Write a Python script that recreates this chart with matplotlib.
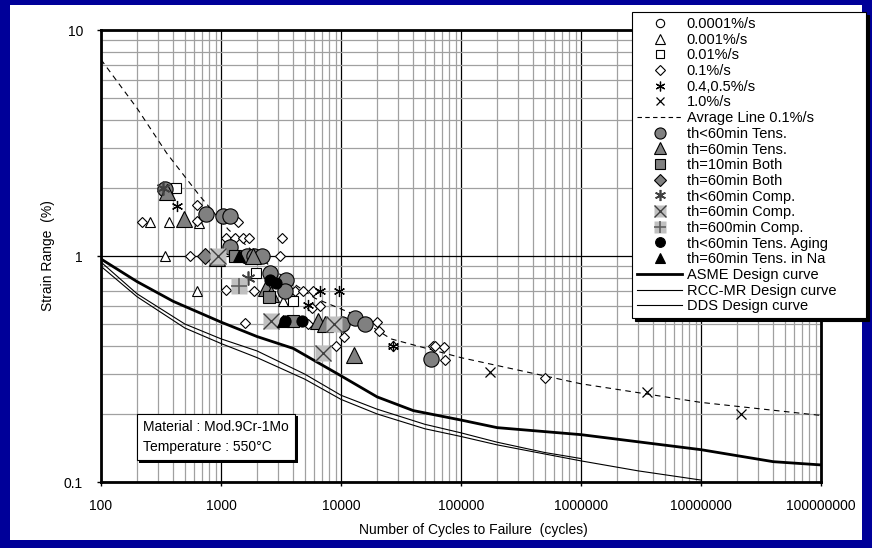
import numpy as np
import matplotlib
matplotlib.use('Agg')
import matplotlib.pyplot as plt
from matplotlib.lines import Line2D
from matplotlib.patches import Rectangle
from matplotlib.ticker import FixedLocator, LogLocator, NullFormatter
from matplotlib.legend_handler import HandlerTuple
import matplotlib.patheffects as pe

plt.rcParams['font.family'] = ['Liberation Sans', 'DejaVu Sans']

# ---- test data: cycles to failure (N) and strain range (%) ----
# open symbols: continuous cycling at different strain rates
r0001_n, r0001_e = [], []
r001_n = [257, 366, 660, 343, 627, 3290]
r001_e = [1.42, 1.42, 1.40, 1.0, 0.70, 0.63]
r01_n = [422, 1970, 3950]
r01_e = [2.0, 0.84, 0.63]
r1_n = [220, 627, 1374, 631, 553, 3100, 1103, 1310, 1530, 1720, 3200, 1100,
        1580, 1900, 4120, 4850, 5890, 5690, 6690, 5340, 20100, 20800, 10500,
        9130, 26900, 58500, 60400, 72200, 73300, 500000]
r1_e = [1.42, 1.68, 1.42, 1.43, 1.0, 1.0, 1.205, 1.205, 1.205, 1.205, 1.205, 0.705,
        0.505, 0.70, 0.70, 0.70, 0.70, 0.59, 0.60, 0.50, 0.51, 0.465, 0.44,
        0.40, 0.40, 0.40, 0.40, 0.395, 0.345, 0.289]
r45_n = [433, 6690, 9560, 5340, 26900]
r45_e = [1.66, 0.70, 0.70, 0.61, 0.40]
r10_n = [175000, 3.56e6, 2.14e7]
r10_e = [0.306, 0.251, 0.20]

# hold time tests
tlt_n = [341, 750, 1045, 1186, 1180, 1660, 1880, 2190, 2540, 3460, 3400,
         10200, 13200, 16000, 55800]
tlt_e = [1.97, 1.54, 1.51, 1.51, 1.10, 1.0, 1.0, 1.0, 0.84, 0.78, 0.70,
         0.50, 0.53, 0.50, 0.35]
t60t_n = [352, 492, 920, 1860, 2380, 2600, 6480, 7380, 12950]
t60t_e = [1.92, 1.46, 0.98, 1.0, 0.72, 0.68, 0.515, 0.50, 0.364]
t10b_n = [1310, 4000, 2500]
t10b_e = [1.0, 0.515, 0.66]
t60b_n = [735]
t60b_e = [1.0]
tltc_n = [330, 1680]
tltc_e = [2.0, 0.80]
t60c_n = [950, 2620, 8670, 7140]
t60c_e = [1.0, 0.515, 0.50, 0.373]
t600c_n = [1410]
t600c_e = [0.735]
aging_n = [2570, 2850, 3400, 4700]
aging_e = [0.78, 0.76, 0.515, 0.515]
na_n = [1420, 3300]
na_e = [1.0, 0.515]

# average line and design curves
avg_n = [100, 200, 353, 668, 1150, 1636, 3000, 6080, 12000, 26000, 1e5, 1e6, 1e7, 1e8]
avg_e = [7.4, 4.5, 2.85, 1.84, 1.31, 1.11, 0.84, 0.65, 0.56, 0.43, 0.355, 0.272, 0.225, 0.197]
asme_n = [100, 200, 400, 1000, 2000, 4000, 1e4, 2e4, 4e4, 1e5, 2e5, 1e6, 1e7, 4e7, 1e8]
asme_e = [0.97, 0.77, 0.63, 0.51, 0.44, 0.39, 0.295, 0.238, 0.207, 0.188, 0.174,
          0.162, 0.139, 0.123, 0.119]
rcc_n = [100, 200, 500, 1000, 2000, 5000, 1e4, 2e4, 5e4, 1e5, 2e5, 5e5, 1e6]
rcc_e = [0.94, 0.68, 0.50, 0.43, 0.38, 0.30, 0.242, 0.21, 0.18, 0.165, 0.150, 0.135, 0.127]
dds_n = [100, 200, 500, 1000, 2000, 5000, 1e4, 2e4, 5e4, 1e5, 2e5, 5e5, 1e6, 3e6, 1e7]
dds_e = [0.90, 0.66, 0.48, 0.41, 0.355, 0.285, 0.232, 0.20, 0.172, 0.159, 0.146, 0.133,
         0.124, 0.112, 0.102]

x_ticks = [100, 1000, 10000, 100000, 1000000, 10000000, 100000000]
y_ticks = [0.1, 1, 10]

W, H = 872, 548
fig = plt.figure(figsize=(W / 100, H / 100), dpi=100, facecolor='#000099')
fig.patches.append(Rectangle((10 / W, 8 / H), 852 / W, 535 / H,
                             transform=fig.transFigure, facecolor='white',
                             edgecolor='none', zorder=-10))
ax = fig.add_axes([101 / W, 1 - 482 / H, 720 / W, 452 / H])
ax.set_zorder(1)
ax.set_xscale('log')
ax.set_yscale('log')
ax.set_xlim(100, 1e8)
ax.set_ylim(0.1, 10)

GRAY = '#808080'
LGRAY = '#c0c0c0'
small = dict(ls='none', mfc='white', mec='black', mew=0.8, zorder=4)
big = dict(ls='none', mec='black', mew=0.8, zorder=5)

ax.plot(avg_n, avg_e, color='black', lw=0.8, dashes=(5, 4), zorder=3)
ax.plot(asme_n, asme_e, color='black', lw=2.0, zorder=3)
ax.plot(rcc_n, rcc_e, color='black', lw=0.8, zorder=3)
ax.plot(dds_n, dds_e, color='black', lw=0.8, zorder=3)

ax.plot(r0001_n, r0001_e, marker='o', ms=6, **small)
ax.plot(r001_n, r001_e, marker='^', ms=7, **small)
ax.plot(r01_n, r01_e, marker='s', ms=6.5, **small)
ax.plot(r1_n, r1_e, marker='D', ms=5.5, **small)
ax.plot(r45_n, r45_e, marker=(6, 2, 0), ms=8, ls='none', mec='black', mew=0.9, zorder=4)
ax.plot(r10_n, r10_e, marker='x', ms=7, ls='none', mec='black', mew=0.9, zorder=4)

ax.plot(tlt_n, tlt_e, marker='o', ms=11, mfc=GRAY, **big)
ax.plot(t60t_n, t60t_e, marker='^', ms=12, mfc=GRAY, **big)
ax.plot(t10b_n, t10b_e, marker='s', ms=9, mfc=GRAY, **big)
ax.plot(t60b_n, t60b_e, marker='D', ms=8, mfc=GRAY, **big)
ax.plot(tltc_n, tltc_e, marker=(6, 2, 0), ms=10, ls='none', mec='#404040', mew=1.2, zorder=5)
ax.plot(t60c_n, t60c_e, marker='s', ms=12, ls='none', mfc=LGRAY, mec='none', zorder=5)
ax.plot(t60c_n, t60c_e, marker='x', ms=12, ls='none', mec='#404040', mew=1.0, zorder=5)
ax.plot(t600c_n, t600c_e, marker='s', ms=12, ls='none', mfc=LGRAY, mec='none', zorder=5)
ax.plot(t600c_n, t600c_e, marker='+', ms=12, ls='none', mec='#606060', mew=1.2, zorder=5)
ax.plot(aging_n, aging_e, marker='o', ms=8, mfc='black', **big)
ax.plot(na_n, na_e, marker='^', ms=9, mfc='black', **big)

# axes styling
ax.xaxis.set_major_locator(FixedLocator(x_ticks))
ax.set_xticklabels([str(v) for v in x_ticks])
ax.yaxis.set_major_locator(FixedLocator(y_ticks))
ax.set_yticklabels(['0.1', '1', '10'])
ax.xaxis.set_minor_locator(LogLocator(base=10, subs=np.arange(2, 10), numticks=20))
ax.yaxis.set_minor_locator(LogLocator(base=10, subs=np.arange(2, 10), numticks=20))
ax.xaxis.set_minor_formatter(NullFormatter())
ax.yaxis.set_minor_formatter(NullFormatter())
ax.tick_params(which='minor', length=0)
ax.tick_params(which='major', length=3, width=1, labelsize=10, direction='out')
ax.tick_params(axis='x', pad=9)
ax.tick_params(axis='y', pad=10)
ax.grid(which='minor', color='#a0a0a0', lw=0.9)
ax.grid(which='major', color='black', lw=0.9)
ax.set_axisbelow(True)
for s in ax.spines.values():
    s.set_linewidth(2)

fig.text(48 / W, 1 - 256 / H, 'Strain Range  (%)', rotation=90,
         ha='center', va='center', fontsize=10)
fig.text(473 / W, 1 - 530 / H, 'Number of Cycles to Failure  (cycles)',
         ha='center', va='center', fontsize=10)

t = ax.text(0.058, 0.062, 'Material : Mod.9Cr-1Mo\nTemperature : 550\u00b0C',
            transform=ax.transAxes, fontsize=10, linespacing=1.55,
            ha='left', va='bottom', zorder=6,
            bbox=dict(boxstyle='square,pad=0.45', fc='white', ec='black', lw=0.8))
t.get_bbox_patch().set_path_effects([
    pe.SimplePatchShadow(offset=(2, -2), shadow_rgbFace='black', alpha=1),
    pe.Normal()])

# legend
def mk(**kw):
    return Line2D([], [], ls='none', **kw)

sm = dict(mfc='white', mec='black', mew=0.8)
bg = dict(mec='black', mew=0.8)
handles = [
    mk(marker='o', ms=6, **sm),
    mk(marker='^', ms=6.5, **sm),
    mk(marker='s', ms=6, **sm),
    mk(marker='D', ms=5, **sm),
    mk(marker=(6, 2, 0), ms=7, mec='black', mew=0.9),
    mk(marker='x', ms=6, mec='black', mew=0.9),
    Line2D([], [], color='black', lw=0.8, dashes=(4, 3)),
    mk(marker='o', ms=8, mfc=GRAY, **bg),
    mk(marker='^', ms=8.5, mfc=GRAY, **bg),
    mk(marker='s', ms=7.5, mfc=GRAY, **bg),
    mk(marker='D', ms=6, mfc=GRAY, **bg),
    mk(marker=(6, 2, 0), ms=8, mec='#404040', mew=1.2),
    (mk(marker='s', ms=9, mfc=LGRAY, mec='none'),
     mk(marker='x', ms=9, mec='#404040', mew=1.0)),
    (mk(marker='s', ms=9, mfc=LGRAY, mec='none'),
     mk(marker='+', ms=9, mec='#606060', mew=1.2)),
    mk(marker='o', ms=7, mfc='black', **bg),
    mk(marker='^', ms=7.5, mfc='black', **bg),
    Line2D([], [], color='black', lw=2.0),
    Line2D([], [], color='black', lw=0.8),
    Line2D([], [], color='black', lw=0.8),
]
labels = ['0.0001%/s', '0.001%/s', '0.01%/s', '0.1%/s', '0.4,0.5%/s', '1.0%/s',
          'Avrage Line 0.1%/s', 'th<60min Tens.', 'th=60min Tens.',
          'th=10min Both', 'th=60min Both', 'th<60min Comp.', 'th=60min Comp.',
          'th=600min Comp.', 'th<60min Tens. Aging', 'th=60min Tens. in Na',
          'ASME Design curve', 'RCC-MR Design curve', 'DDS Design curve']
leg = fig.legend(handles, labels, loc='upper left', mode='expand',
                 bbox_to_anchor=(632 / W, 1 - 317 / H, 234 / W, 305 / H),
                 bbox_transform=fig.transFigure,
                 borderaxespad=0, fontsize=10.5, labelspacing=0.115,
                 handlelength=3.1, handletextpad=0.3, borderpad=0.35,
                 frameon=True, fancybox=False, framealpha=1,
                 shadow={'color': 'black', 'alpha': 1.0},
                 handler_map={tuple: HandlerTuple(ndivide=1)})
leg.get_frame().set_edgecolor('black')
leg.get_frame().set_linewidth(0.8)
leg.set_zorder(10)

fig.savefig('out.png', dpi=100, facecolor=fig.get_facecolor())
